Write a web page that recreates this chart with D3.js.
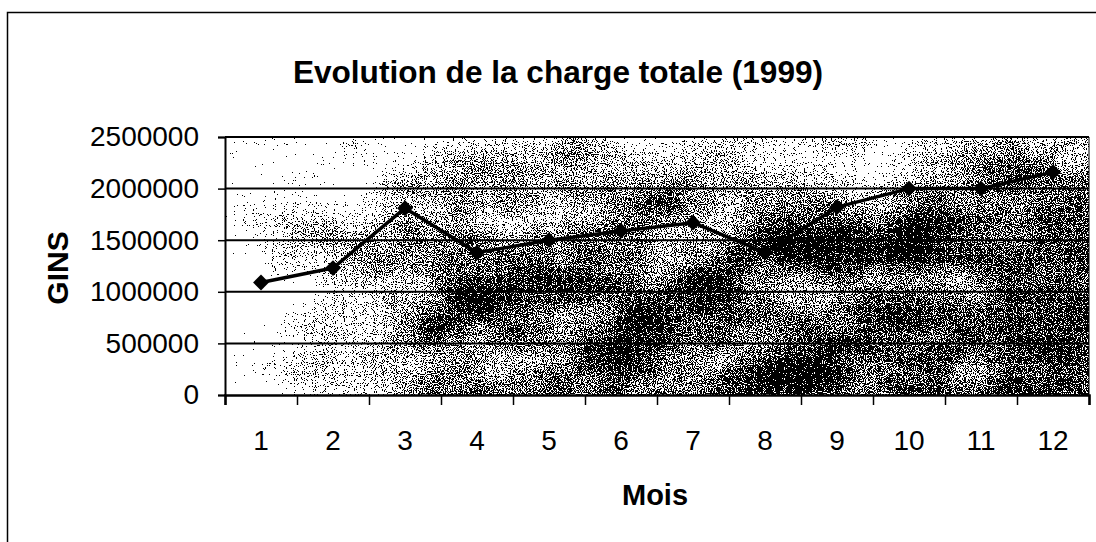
<!DOCTYPE html>
<html>
<head>
<meta charset="utf-8">
<script src="https://cdn.jsdelivr.net/npm/d3@7"></script>
<style>
  body { margin: 0; background: #fff; }
  text { font-family: "Liberation Sans", Arial, sans-serif; }
</style>
</head>
<body>
<svg id="chart" width="1096" height="542"></svg>
<script>
const months = [1, 2, 3, 4, 5, 6, 7, 8, 9, 10, 11, 12];
const charge = [1090000, 1230000, 1810000, 1380000, 1500000, 1590000,
                1670000, 1380000, 1820000, 2000000, 2000000, 2160000];
const yTicks = [0, 500000, 1000000, 1500000, 2000000, 2500000];

const plot = { left: 225, right: 1089, top: 137, bottom: 395 };

const svg = d3.select("#chart");

const x = d3.scaleBand()
  .domain(months)
  .range([plot.left, plot.right])
  .padding(0);

// same axis as a number line, used for the tick marks between months
const xEdge = d3.scaleLinear()
  .domain([0.5, 12.5])
  .range([plot.left, plot.right]);

const y = d3.scaleLinear()
  .domain([0, 2500000])
  .range([plot.bottom, plot.top]);

addDefs();
drawFrame();
drawPlotArea();
drawAxes();
drawSeries();
drawLabels();

/*
 * grain filter: dithered black dots, light on the left, darker to the right
 */
function addDefs() {
  const defs = svg.append("defs");

  const grad = defs.append("linearGradient")
    .attr("id", "biasX")
    .attr("x1", "0").attr("y1", "0")
    .attr("x2", "1").attr("y2", "0");
  [[0, 55], [0.12, 95], [0.22, 135], [0.3, 150], [0.5, 150], [0.7, 160], [1, 165]].forEach(s => {
    grad.append("stop")
      .attr("offset", s[0])
      .attr("stop-color", "rgb(" + s[1] + "," + s[1] + "," + s[1] + ")");
  });

  // lighter strip along the top, lighter bottom left corner
  const top = defs.append("linearGradient")
    .attr("id", "biasY")
    .attr("x1", "0").attr("y1", "0")
    .attr("x2", "0").attr("y2", "1");
  top.append("stop").attr("offset", 0).attr("stop-color", "#000").attr("stop-opacity", 0.4);
  top.append("stop").attr("offset", 0.2).attr("stop-color", "#000").attr("stop-opacity", 0.2);
  top.append("stop").attr("offset", 0.45).attr("stop-color", "#000").attr("stop-opacity", 0);
  top.append("stop").attr("offset", 1).attr("stop-color", "#000").attr("stop-opacity", 0);

  const corner = defs.append("radialGradient")
    .attr("id", "corner")
    .attr("cx", "0").attr("cy", "1").attr("r", "0.25");
  corner.append("stop").attr("offset", 0).attr("stop-color", "#000").attr("stop-opacity", 0.5);
  corner.append("stop").attr("offset", 1).attr("stop-color", "#000").attr("stop-opacity", 0);

  const f = defs.append("filter")
    .attr("id", "grain")
    .attr("x", 0).attr("y", 0)
    .attr("width", 1).attr("height", 1)
    .attr("color-interpolation-filters", "sRGB");

  f.append("feTurbulence")
    .attr("type", "fractalNoise")
    .attr("baseFrequency", "0.01 0.015")
    .attr("numOctaves", 3)
    .attr("seed", 11)
    .attr("result", "lowRaw");
  f.append("feColorMatrix")
    .attr("in", "lowRaw")
    .attr("type", "matrix")
    .attr("values", "1 0 0 0 0  1 0 0 0 0  1 0 0 0 0  0 0 0 0 1")
    .attr("result", "low");

  f.append("feTurbulence")
    .attr("type", "fractalNoise")
    .attr("baseFrequency", "0.9")
    .attr("numOctaves", 1)
    .attr("seed", 4)
    .attr("result", "fineRaw");
  f.append("feColorMatrix")
    .attr("in", "fineRaw")
    .attr("type", "matrix")
    .attr("values", "1 0 0 0 0  1 0 0 0 0  1 0 0 0 0  0 0 0 0 1")
    .attr("result", "fine");

  // mix = 0.5 + 0.3(low - .5) + 0.75(fine - .5)
  f.append("feComposite")
    .attr("in", "low")
    .attr("in2", "fine")
    .attr("operator", "arithmetic")
    .attr("k1", 0).attr("k2", 0.3).attr("k3", 0.75).attr("k4", -0.025)
    .attr("result", "mix");
  // dark = 2 * (mix - .5) + bias - 0.04
  f.append("feComposite")
    .attr("in", "mix")
    .attr("in2", "SourceGraphic")
    .attr("operator", "arithmetic")
    .attr("k1", 0).attr("k2", 2).attr("k3", 1).attr("k4", -1.04)
    .attr("result", "dark");

  f.append("feColorMatrix")
    .attr("in", "dark")
    .attr("type", "matrix")
    .attr("values", "0 0 0 0 0  0 0 0 0 0  0 0 0 0 0  1 0 0 0 0")
    .attr("result", "alpha");
  const ct = f.append("feComponentTransfer").attr("in", "alpha");
  ct.append("feFuncA")
    .attr("type", "discrete")
    .attr("tableValues", "0 1");
}

function drawFrame() {
  svg.append("rect")
    .attr("x", 7.5)
    .attr("y", 12.5)
    .attr("width", 1120)
    .attr("height", 560)
    .attr("fill", "#fff")
    .attr("stroke", "#000")
    .attr("stroke-width", 1.5);
}

function drawPlotArea() {
  const bg = svg.append("g").attr("filter", "url(#grain)");
  ["url(#biasX)", "url(#biasY)", "url(#corner)"].forEach(fill => {
    bg.append("rect")
      .attr("x", plot.left)
      .attr("y", plot.top)
      .attr("width", plot.right - plot.left)
      .attr("height", plot.bottom - plot.top)
      .attr("fill", fill);
  });

  // horizontal gridlines
  svg.append("g")
    .selectAll("line")
    .data(yTicks.slice(1))
    .join("line")
    .attr("x1", plot.left)
    .attr("x2", plot.right)
    .attr("y1", d => y(d))
    .attr("y2", d => y(d))
    .attr("stroke", "#000")
    .attr("stroke-width", 2);

  // right edge of the plot area
  svg.append("line")
    .attr("x1", plot.right)
    .attr("x2", plot.right)
    .attr("y1", plot.top)
    .attr("y2", plot.bottom)
    .attr("stroke", "#000")
    .attr("stroke-width", 1);
}

function drawAxes() {
  const yAxis = svg.append("g")
    .attr("transform", "translate(" + plot.left + ",0)")
    .call(d3.axisLeft(y).tickValues(yTicks).tickSize(7).tickPadding(19).tickFormat(d3.format("d")));
  yAxis.select(".domain").attr("stroke-width", 2);
  yAxis.selectAll(".tick line").attr("stroke-width", 1.5);
  yAxis.selectAll("text")
    .attr("font-size", "28px")
    .attr("font-family", "Liberation Sans, Arial, sans-serif")
    .attr("fill", "#000");

  // tick marks between months
  const xTicks = svg.append("g")
    .attr("transform", "translate(0," + plot.bottom + ")")
    .call(d3.axisBottom(xEdge).tickValues(d3.range(0.5, 13, 1)).tickSize(10).tickFormat(""));
  xTicks.select(".domain").attr("stroke-width", 2.5);
  xTicks.selectAll(".tick line").attr("stroke-width", 1.5);

  // month labels
  const xAxis = svg.append("g")
    .attr("transform", "translate(0," + plot.bottom + ")")
    .call(d3.axisBottom(x).tickSize(0).tickPadding(35));
  xAxis.select(".domain").remove();
  xAxis.selectAll("text")
    .attr("font-size", "28px")
    .attr("font-family", "Liberation Sans, Arial, sans-serif")
    .attr("fill", "#000");
}

function drawSeries() {
  const cx = d => x(d) + x.bandwidth() / 2;
  const line = d3.line()
    .x((d, i) => cx(months[i]))
    .y(d => y(d));

  svg.append("path")
    .datum(charge)
    .attr("d", line)
    .attr("fill", "none")
    .attr("stroke", "#000")
    .attr("stroke-width", 3.5)
    .attr("stroke-linejoin", "round");

  svg.append("g")
    .selectAll("path")
    .data(charge)
    .join("path")
    .attr("d", d3.symbol().type(d3.symbolDiamond2).size(160))
    .attr("transform", (d, i) => "translate(" + cx(months[i]) + "," + y(d) + ")")
    .attr("fill", "#000");
}

function drawLabels() {
  svg.append("text")
    .attr("x", 558)
    .attr("y", 83)
    .attr("text-anchor", "middle")
    .attr("font-size", "31.6px")
    .attr("font-weight", "bold")
    .text("Evolution de la charge totale (1999)");

  svg.append("text")
    .attr("x", (plot.left + plot.right) / 2 - 2)
    .attr("y", 505)
    .attr("text-anchor", "middle")
    .attr("font-size", "29px")
    .attr("font-weight", "bold")
    .text("Mois");

  svg.append("text")
    .attr("transform", "translate(68," + 268 + ") rotate(-90)")
    .attr("text-anchor", "middle")
    .attr("font-size", "30px")
    .attr("font-weight", "bold")
    .text("GINS");
}
</script>
</body>
</html>
